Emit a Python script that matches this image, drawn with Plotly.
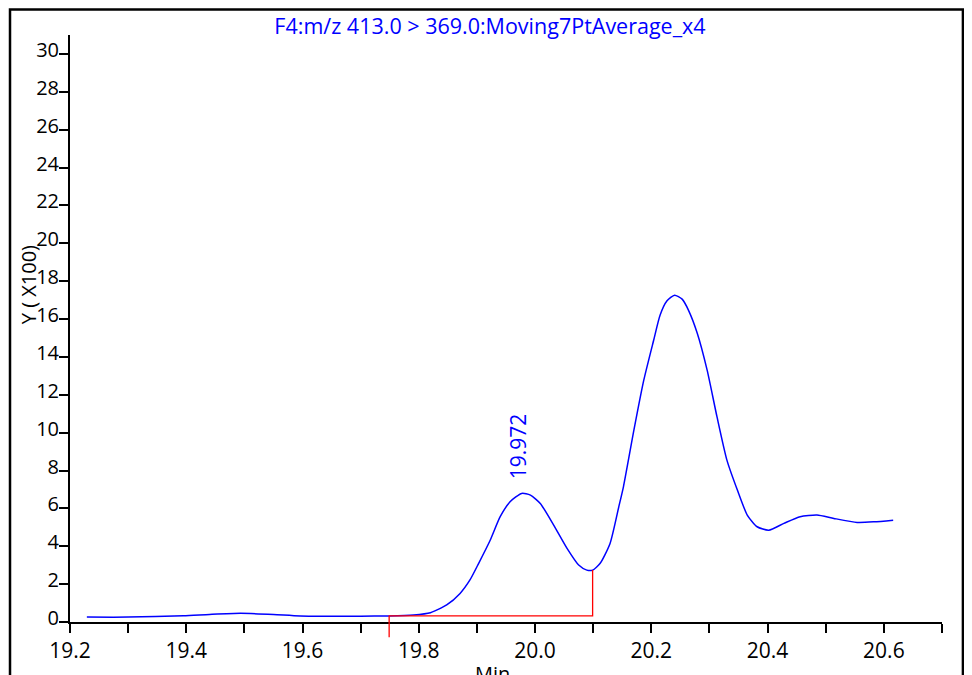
import plotly.graph_objects as go

# Chromatogram trace (time in min, intensity in X100)
time_min = [19.229, 19.30, 19.395, 19.44, 19.493, 19.55, 19.596, 19.70, 19.749, 19.791, 19.820,
            19.848, 19.871, 19.888, 19.903, 19.923, 19.940, 19.957, 19.977, 19.992,
            20.009, 20.032, 20.055, 20.075, 20.089, 20.099, 20.112, 20.129, 20.144,
            20.152, 20.170, 20.187, 20.204, 20.215, 20.227, 20.240, 20.253, 20.264,
            20.279, 20.296, 20.313, 20.330, 20.348, 20.365, 20.382, 20.402, 20.428,
            20.456, 20.485, 20.514, 20.554, 20.583, 20.616]
intensity = [0.26, 0.26, 0.33, 0.40, 0.46, 0.40, 0.32, 0.31, 0.32, 0.37, 0.49,
             0.90, 1.51, 2.22, 3.10, 4.33, 5.56, 6.35, 6.79, 6.70,
             6.26, 5.12, 3.89, 3.01, 2.74, 2.74, 3.10, 4.15, 6.08,
             7.14, 10.13, 12.77, 14.88, 16.20, 16.96, 17.26, 17.05, 16.46,
             15.25, 13.30, 10.83, 8.55, 6.97, 5.65, 5.03, 4.85, 5.21,
             5.56, 5.65, 5.47, 5.26, 5.29, 5.38]

# Integration baseline
base_x = [19.749, 19.749, 20.099, 20.099]
base_y = [0.0, 0.32, 0.32, 2.74]

peak_rt = 19.972
peak_h = 6.79

x_ticks = [19.2, 19.4, 19.6, 19.8, 20.0, 20.2, 20.4, 20.6]
x_tick_labels = ["19.2", "19.4", "19.6", "19.8", "20.0", "20.2", "20.4", "20.6"]
y_ticks = [0, 2, 4, 6, 8, 10, 12, 14, 16, 18, 20, 22, 24, 26, 28, 30]

title_text = "F4:m/z 413.0 > 369.0:Moving7PtAverage_x4"

FONT = "Open Sans, Liberation Sans, Arial, sans-serif"

fig = go.Figure()
fig.add_trace(go.Scatter(x=time_min, y=intensity, mode="lines",
                         line=dict(color="#0000ff", width=1.5, shape="spline", smoothing=0.6),
                         hoverinfo="skip", showlegend=False))
fig.add_trace(go.Scatter(x=base_x, y=base_y, mode="lines",
                         line=dict(color="#ff0000", width=1.3),
                         hoverinfo="skip", showlegend=False))

# red tick below axis at baseline start
fig.add_shape(type="line", xref="x", yref="paper", x0=base_x[0], x1=base_x[0], y0=0, y1=-0.026,
              line=dict(color="#ff0000", width=1.3))

# outer frame
fig.add_shape(type="rect", xref="paper", yref="paper", x0=-0.0688, x1=1.024, y0=-0.12, y1=1.0434,
              line=dict(color="black", width=2.5), fillcolor="rgba(0,0,0,0)", layer="above")

fig.add_annotation(x=peak_rt, y=peak_h, text="19.972", textangle=-90, showarrow=False,
                   yanchor="bottom", xanchor="center", yshift=12,
                   font=dict(family=FONT, size=21, color="#0000ff"))
fig.add_annotation(xref="paper", yref="paper", x=-0.048, y=0.574, text="Y ( X100)", textangle=-90,
                   showarrow=False, xanchor="center", yanchor="middle",
                   font=dict(family=FONT, size=20, color="black"))
fig.add_annotation(xref="paper", yref="paper", x=0.485, y=-0.088, text="Min",
                   showarrow=False, xanchor="center", yanchor="middle",
                   font=dict(family=FONT, size=20, color="black"))

fig.update_layout(
    width=964, height=667,
    margin=dict(l=62, r=30, t=27, b=53),
    paper_bgcolor="white", plot_bgcolor="white",
    font=dict(family=FONT, size=20, color="black"),
    title=dict(text=title_text, x=0.5, xref="container", xanchor="center", y=0.972, yanchor="middle",
               font=dict(family=FONT, size=21.5, color="#0000ff")),
    xaxis=dict(range=[19.2, 20.7], tickvals=x_ticks, ticktext=x_tick_labels,
               showgrid=False, zeroline=False, showline=True, linecolor="black", linewidth=2,
               ticks="outside", ticklen=9, tickwidth=2, tickcolor="black",
               minor=dict(dtick=0.1, tick0=19.2, ticks="outside", ticklen=9, tickwidth=2, tickcolor="black"),
               tickfont=dict(family=FONT, size=21)),
    yaxis=dict(range=[0, 31.0], tickvals=y_ticks,
               showgrid=False, zeroline=False, showline=True, linecolor="black", linewidth=2,
               ticks="outside", ticklen=9, tickwidth=2, tickcolor="black",
               ticklabelstandoff=-4, ticklabelshift=-4,
               tickfont=dict(family=FONT, size=20)),
)

fig.write_html("out.html")
